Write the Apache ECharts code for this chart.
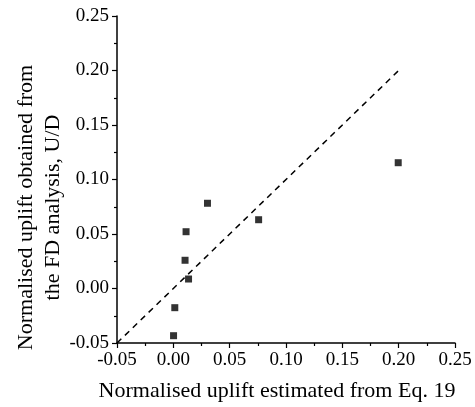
<!DOCTYPE html>
<html>
<head>
<meta charset="utf-8">
<script src="https://cdn.jsdelivr.net/npm/echarts@6/dist/echarts.min.js"></script>
<style>
  html, body { margin: 0; padding: 0; background: #fff; }
  #chart { width: 475px; height: 407px; }
</style>
</head>
<body>
<div id="chart"></div>
<script>
// estimated uplift (Eq. 19) vs FD analysis uplift, U/D
var estimated = [0.0002, 0.0013, 0.0104, 0.0113, 0.0135, 0.0303, 0.0757, 0.1996]
var fdResult = [-0.0433, -0.0176, 0.0259, 0.0521, 0.0087, 0.0782, 0.0631, 0.1154]
var equalityLine = [[-0.05, -0.05], [0.2, 0.2]]
var axisMin = -0.05
var axisMax = 0.25
var axisStep = 0.05

var font = 'Liberation Serif'
var points = estimated.map(function (x, i) {
  return [x, fdResult[i]]
})

function axisStyle() {
  return {
    type: 'value',
    min: axisMin,
    max: axisMax,
    interval: axisStep,
    nameLocation: 'middle',
    nameMoveOverlap: false,
    nameTextStyle: {
      fontFamily: font,
      fontSize: 22,
      color: '#000',
      lineHeight: 27
    },
    axisLine: {
      onZero: false,
      lineStyle: { color: '#000', width: 1.5 }
    },
    axisTick: {
      inside: false,
      length: 5,
      lineStyle: { color: '#000', width: 1.2 }
    },
    minorTick: {
      show: true,
      splitNumber: 2,
      length: 3,
      lineStyle: { color: '#000', width: 1.2 }
    },
    splitLine: { show: false },
    axisLabel: {
      fontFamily: font,
      fontSize: 19,
      color: '#000',
      formatter: function (v) {
        return v.toFixed(2)
      }
    }
  }
}

var xAxis = axisStyle()
xAxis.name = 'Normalised uplift estimated from Eq. 19'
xAxis.nameGap = 35
xAxis.nameTextStyle.padding = [0, 18, 0, 0]
xAxis.axisLabel.margin = 8

var yAxis = axisStyle()
yAxis.name = 'Normalised uplift obtained from\nthe FD analysis, U/D'
yAxis.nameRotate = 90
yAxis.nameGap = 50
yAxis.nameTextStyle.padding = [0, 56, 0, 0]
yAxis.axisLabel.margin = 8

var chart = echarts.init(document.getElementById('chart'))
chart.setOption({
  animation: false,
  grid: {
    left: 117,
    right: 20,
    top: 16,
    bottom: 64,
    containLabel: false,
    outerBoundsMode: 'none'
  },
  xAxis: xAxis,
  yAxis: yAxis,
  series: [
    {
      type: 'line',
      data: equalityLine,
      symbol: 'none',
      lineStyle: {
        color: '#000',
        width: 1.5,
        type: [6, 5]
      }
    },
    {
      type: 'scatter',
      data: points,
      symbol: 'rect',
      symbolSize: 7,
      itemStyle: { color: '#000' }
    }
  ]
})
</script>
</body>
</html>
